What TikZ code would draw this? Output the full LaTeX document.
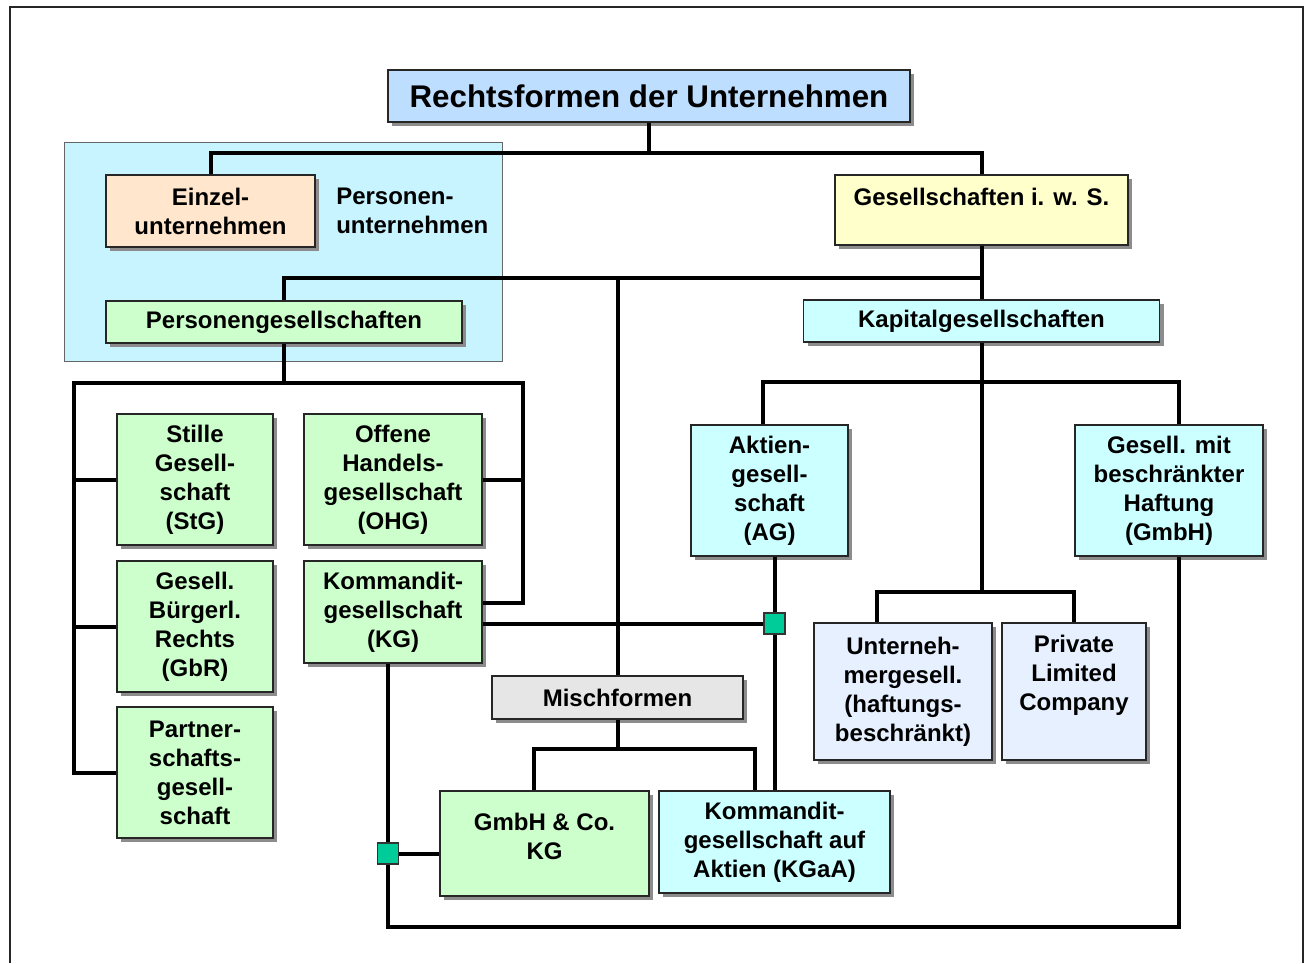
\documentclass[tikz,border=0pt]{standalone}
\usepackage{fontspec}
\setmainfont{Liberation Sans}
\usetikzlibrary{shadows,calc}
\definecolor{titleblue}{HTML}{BEDEFF}
\definecolor{regcyan}{HTML}{C8F4FF}
\definecolor{peach}{HTML}{FFE6CC}
\definecolor{lightyellow}{HTML}{FFFFCC}
\definecolor{lightgreen}{HTML}{CCFFCC}
\definecolor{lightcyan}{HTML}{CCFFFF}
\definecolor{lavender}{HTML}{E6F0FF}
\definecolor{lightgrey}{HTML}{E6E6E6}
\definecolor{sqgreen}{HTML}{00CC99}
\begin{document}
\begin{tikzpicture}[x=0.75pt,y=-0.75pt,
  sz/.style 2 args={minimum width=#1*0.75pt, minimum height=#2*0.75pt},
  box/.style={draw=black!85, line width=0.9pt, inner sep=0pt, align=center,
    font=\bfseries\fontsize{18}{21.75}\selectfont,
    drop shadow={shadow xshift=3pt, shadow yshift=-3pt, fill=black!45, opacity=1}},
  txt/.style={inner sep=0pt, align=center, font=\bfseries\fontsize{18}{21.75}\selectfont},
  conn/.style={line width=3pt, line join=miter},
  sq/.style={draw=black!80, line width=0.9pt, fill=sqgreen, minimum size=21*0.75pt, inner sep=0pt},
]
\useasboundingbox (0,0) rectangle (1308,963);
\draw[black!85, line width=1pt] (10,963) -- (10,7) -- (1303,7) -- (1303,963);

% region Personenunternehmen
\node[draw=black!60, line width=0.75pt, fill=regcyan, sz={438}{218}, inner sep=0pt] (pureg) at (283,252) {};

% boxes
\node[box, fill=titleblue, sz={522}{52}, font=\bfseries\fontsize{23.5}{28}\selectfont] (title) at (649,96) {Rechtsformen der Unternehmen};
\node[box, fill=peach, sz={209}{72}] (einzel) at (210.5,211) {Einzel-\\unternehmen};
\node[txt, anchor=west, align=left] (putext) at (336,210.5) {Personen-\\unternehmen};
\node[box, fill=lightyellow, sz={293}{70}] (gws) at (981.5,210) {};
\node[txt] (gwstext) at (981.5,197) {Gesellschaften i. w. S.};
\node[box, fill=lightgreen, sz={356}{42}] (pges) at (284,322) {Personengesellschaften};
\node[box, fill=lightcyan, sz={356}{42}] (kap) at (981.5,321) {Kapitalgesellschaften};
\node[box, fill=lightgreen, sz={156}{131}] (stg) at (195,479.5) {Stille\\Gesell-\\schaft\\(StG)};
\node[box, fill=lightgreen, sz={178}{131}] (ohg) at (393,479.5) {Offene\\Handels-\\gesellschaft\\(OHG)};
\node[box, fill=lightgreen, sz={156}{131}] (gbr) at (195,626.5) {Gesell.\\Bürgerl.\\Rechts\\(GbR)};
\node[box, fill=lightgreen, sz={156}{131}] (partner) at (195,772.5) {Partner-\\schafts-\\gesell-\\schaft};
\node[box, fill=lightgreen, sz={178}{102}] (kg) at (393,612) {Kommandit-\\gesellschaft\\(KG)};
\node[box, fill=lightcyan, sz={157}{131}] (ag) at (769.5,490.5) {Aktien-\\gesell-\\schaft\\(AG)};
\node[box, fill=lightcyan, sz={188}{131}] (gmbh) at (1169,490.5) {Gesell. mit\\beschränkter\\Haftung\\(GmbH)};
\node[box, fill=lavender, sz={178}{137}] (ug) at (903,691.5) {Unterneh-\\mergesell.\\(haftungs-\\beschränkt)};
\node[box, fill=lavender, sz={144}{137}] (ltd) at (1074,691.5) {};
\node[txt] (ltdtext) at (1074,675) {Private\\Limited\\Company};
\node[box, fill=lightgrey, sz={251}{43}] (misch) at (617.5,697.5) {Mischformen};
\node[box, fill=lightgreen, sz={209}{105}] (gco) at (544.5,843.5) {};
\node[txt] (gcotext) at (544.5,836.5) {GmbH \& Co.\\KG};
\node[box, fill=lightcyan, sz={231}{102}] (kgaa) at (774.5,842) {Kommandit-\\gesellschaft auf\\Aktien (KGaA)};
\node[sq] (sqA) at (774.5,623.5) {};
\node[sq] (sqB) at (388,853.5) {};

% helper coordinates
\coordinate (j1) at (649,153);
\coordinate (j2) at (981.5,278);
\coordinate (j3) at (284,383);
\coordinate (j4) at (981.5,382);
\coordinate (j5) at (981.5,592);
\coordinate (j6) at (617.5,749);
\coordinate (jB) at (1179,927);
\coordinate (xL) at (74,0);
\coordinate (xR1) at (523,0);
\coordinate (xAG) at (763,0);
\coordinate (xUG) at (877,0);
\coordinate (xG) at (534,0);
\coordinate (xK) at (755,0);
\coordinate (kgR) at ($(kg.east)+(0,-9)$);

% connectors
\draw[conn] (title.south) -- (j1);
\draw[conn] (einzel.north) -- (einzel.north |- j1) -- (j1 -| gws.north) -- (gws.north);
\draw[conn] (gws.south) -- (j2);
\draw[conn] (pges.north) -- (pges.north |- j2) -- (j2) -- (kap.north);
\draw[conn] (misch.north) -- (misch.north |- j2);
\draw[conn] (pges.south) -- (j3);
\draw[conn] (partner.west) -- (partner.west -| xL) -- (j3 -| xL) -- (j3 -| xR1) -- (xR1 |- kgR) -- (kgR);
\draw[conn] (stg.west) -- (stg.west -| xL);
\draw[conn] (gbr.west) -- (gbr.west -| xL);
\draw[conn] (ohg.east) -- (ohg.east -| xR1);
\draw[conn] (kg.east |- sqA) -- (sqA.west);
\draw[conn] (ag.south -| sqA) -- (sqA.north);
\draw[conn] (sqA.south) -- (sqA |- kgaa.north);
\draw[conn] (kg.south -| sqB) -- (sqB.north);
\draw[conn] (sqB.east) -- (sqB -| gco.west);
\draw[conn] (sqB.south) -- (sqB |- jB) -- (jB) -- (jB |- gmbh.south);
\draw[conn] (kap.south) -- (j4);
\draw[conn] (xAG |- ag.north) -- (xAG |- j4) -- (jB |- j4) -- (jB |- gmbh.north);
\draw[conn] (j4) -- (j5);
\draw[conn] (xUG |- ug.north) -- (xUG |- j5) -- (j5 -| ltd.north) -- (ltd.north);
\draw[conn] (misch.south) -- (j6);
\draw[conn] (xG |- gco.north) -- (xG |- j6) -- (xK |- j6) -- (xK |- kgaa.north);
\end{tikzpicture}
\end{document}
